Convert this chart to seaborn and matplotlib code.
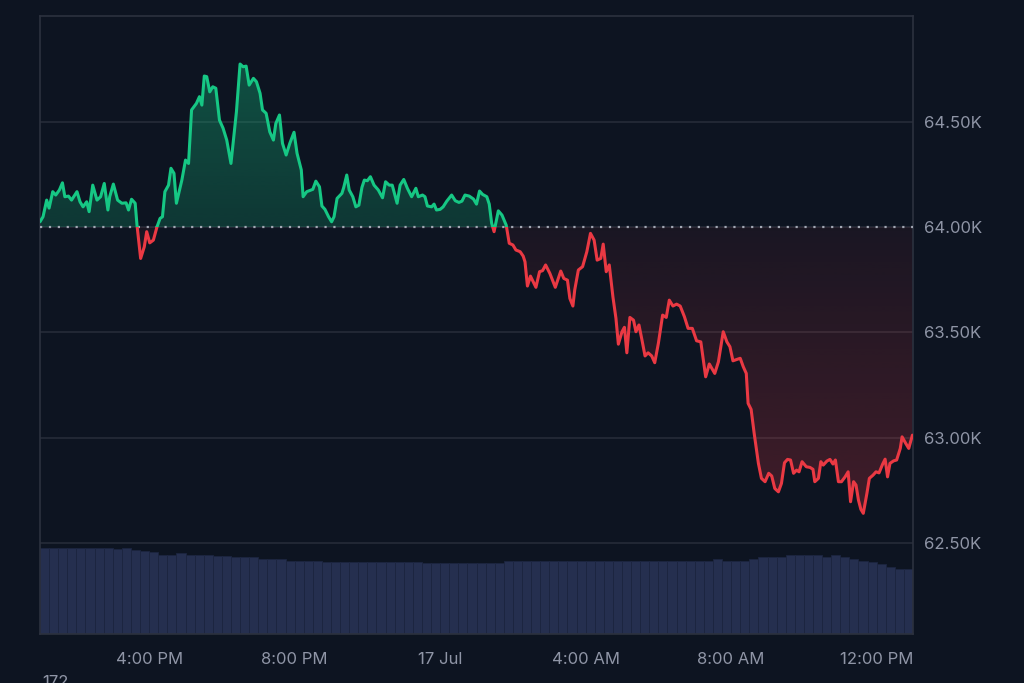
import numpy as np
import pandas as pd
import matplotlib
matplotlib.use("Agg")
import matplotlib.pyplot as plt
import matplotlib.dates as mdates
from matplotlib.path import Path
from matplotlib.patches import Rectangle
import seaborn as sns

# --- data (minutes after 16 Jul 13:00, price in USD) ---
minutes = [0, 5, 11, 15, 21, 26, 32, 37, 41, 47, 52, 61, 66, 71, 77, 81, 87, 94, 100, 106,
           112, 115, 121, 128, 135, 142, 146, 151, 157, 160, 166, 172, 176, 181, 187, 193, 198, 202, 206, 212,
           216, 221, 225, 234, 240, 245, 250, 258, 263, 267, 271, 275, 280, 285, 290, 296, 302, 308, 315, 324,
           330, 335, 340, 345, 352, 357, 363, 367, 373, 379, 385, 389, 395, 400, 406, 412, 419, 424, 431, 434,
           440, 450, 455, 461, 465, 470, 476, 481, 485, 490, 498, 501, 506, 510, 516, 521, 526, 531, 535, 540,
           545, 551, 558, 565, 570, 576, 581, 589, 594, 600, 606, 613, 620, 624, 631, 635, 639, 646, 650, 654,
           660, 665, 671, 679, 685, 691, 696, 701, 708, 715, 720, 725, 730, 737, 741, 745, 749, 756, 762, 769,
           774, 780, 785, 792, 797, 800, 804, 809, 818, 824, 829, 834, 841, 850, 859, 864, 870, 874, 879, 882,
           888, 895, 902, 908, 914, 919, 925, 929, 934, 939, 945, 950, 954, 960, 964, 968, 973, 979, 983, 988,
           993, 998, 1003, 1009, 1014, 1020, 1027, 1033, 1038, 1044, 1050, 1056, 1063, 1069, 1076, 1083, 1090, 1098, 1104, 1113,
           1119, 1127, 1133, 1138, 1143, 1150, 1155, 1160, 1165, 1168, 1173, 1178, 1185, 1190, 1196, 1202, 1207, 1212, 1218, 1223,
           1228, 1233, 1238, 1243, 1248, 1252, 1257, 1264, 1270, 1275, 1278, 1284, 1288, 1292, 1298, 1303, 1308, 1312, 1317, 1322,
           1328, 1333, 1337, 1342, 1346, 1350, 1354, 1358, 1364, 1368, 1374, 1379, 1384, 1390, 1394, 1398, 1402, 1408, 1413, 1419,
           1422, 1428, 1433, 1439]
prices = [64025, 64049, 64128, 64090, 64168, 64152, 64176, 64210, 64144, 64147, 64128, 64168, 64120, 64096, 64120, 64073, 64199, 64128, 64144, 64207,
          64081, 64144, 64204, 64128, 64113, 64115, 64081, 64132, 64113, 64009, 63851, 63906, 63978, 63925, 63938, 64001, 64041, 64049, 64168, 64199,
          64279, 64255, 64113, 64223, 64318, 64302, 64556, 64587, 64619, 64579, 64717, 64714, 64642, 64666, 64659, 64508, 64469, 64413, 64302, 64547,
          64774, 64761, 64764, 64674, 64706, 64690, 64635, 64556, 64540, 64452, 64413, 64492, 64532, 64397, 64342, 64397, 64450, 64350, 64271, 64144,
          64168, 64179, 64218, 64191, 64100, 64084, 64049, 64025, 64049, 64136, 64160, 64188, 64247, 64176, 64144, 64096, 64104, 64188, 64223, 64220,
          64239, 64199, 64176, 64139, 64215, 64199, 64199, 64113, 64199, 64226, 64184, 64144, 64184, 64144, 64152, 64144, 64100, 64096, 64109, 64081,
          64084, 64096, 64123, 64152, 64125, 64117, 64123, 64152, 64147, 64133, 64109, 64171, 64155, 64144, 64109, 64018, 63978, 64077, 64057, 64009,
          63923, 63915, 63891, 63883, 63862, 63835, 63720, 63767, 63714, 63788, 63793, 63820, 63780, 63714, 63791, 63756, 63748, 63661, 63625, 63701,
          63796, 63812, 63883, 63970, 63938, 63843, 63851, 63919, 63788, 63820, 63669, 63567, 63444, 63503, 63524, 63403, 63571, 63558, 63503, 63535,
          63463, 63388, 63403, 63388, 63356, 63448, 63582, 63571, 63653, 63625, 63634, 63625, 63574, 63519, 63519, 63460, 63455, 63289, 63350, 63305,
          63360, 63503, 63455, 63432, 63365, 63372, 63377, 63337, 63305, 63163, 63134, 63021, 62878, 62807, 62791, 62831, 62818, 62759, 62743, 62783,
          62881, 62897, 62894, 62831, 62846, 62838, 62886, 62862, 62859, 62850, 62791, 62807, 62886, 62870, 62889, 62897, 62875, 62894, 62791, 62791,
          62814, 62838, 62696, 62791, 62775, 62704, 62660, 62641, 62736, 62807, 62822, 62838, 62833, 62875, 62898, 62814, 62878, 62890, 62894, 62949,
          63004, 62973, 62949, 63012]

# volume bars, one every 15 minutes (billions)
vol_minutes = list(range(0, 1440, 15))
volumes = [30.0, 30.0, 30.0, 30.0, 30.0, 30.0, 30.0, 30.0, 29.6, 30.0, 29.4, 29.2, 28.7, 27.8, 27.5, 28.2,
           27.5, 27.7, 27.7, 27.3, 27.2, 26.8, 26.8, 26.8, 26.4, 26.4, 26.4, 25.7, 25.7, 25.7, 25.7, 25.1,
           25.2, 25.2, 25.2, 25.2, 25.2, 25.2, 25.2, 25.2, 25.2, 25.2, 25.0, 25.0, 25.0, 25.0, 25.0, 25.0,
           25.0, 25.0, 25.0, 25.4, 25.4, 25.4, 25.4, 25.4, 25.4, 25.4, 25.6, 25.6, 25.6, 25.6, 25.6, 25.6,
           25.6, 25.6, 25.6, 25.6, 25.6, 25.6, 25.6, 25.6, 25.6, 25.7, 26.3, 25.6, 25.7, 25.7, 26.4, 27.0,
           27.0, 27.1, 27.5, 27.5, 27.5, 27.5, 27.1, 27.5, 26.8, 26.4, 25.7, 25.2, 24.5, 23.6, 22.9, 22.6]

baseline = 64000
tick_prices = [62500, 63000, 63500, 64000, 64500]
tick_times = ['2024-07-16 16:00', '2024-07-16 20:00', '2024-07-17 00:00',
              '2024-07-17 04:00', '2024-07-17 08:00', '2024-07-17 12:00']
tick_labels = ['4:00 PM', '8:00 PM', '17 Jul', '4:00 AM', '8:00 AM', '12:00 PM']

BG = '#0d1421'
GREEN = '#16c784'
RED = '#ea3943'
GRID = '#262b38'
TEXT = '#8f95a6'

sns.set_theme(style="dark")
plt.rcParams['font.family'] = ['Inter', 'DejaVu Sans']

start = pd.Timestamp('2024-07-16 13:00')
times = start + pd.to_timedelta(minutes, unit='m')
df = pd.DataFrame({'time': times, 'price': prices})
vol_times = start + pd.to_timedelta(vol_minutes, unit='m')

fig = plt.figure(figsize=(10.24, 6.83), dpi=100, facecolor=BG)
ax = fig.add_axes([40 / 1024, 1 - 634 / 683, 873 / 1024, 618 / 683])
ax.set_facecolor(BG)

# volume on a hidden twin axis
ax2 = ax.twinx()
ax2.bar(vol_times, volumes, width=15 / 1440, align='edge', color='#252f4f',
        edgecolor='#1c2540', linewidth=0.6, zorder=1)
ax2.set_ylim(0, 216.3)
ax2.set_yticks([])
ax2.grid(False)
for s in ax2.spines.values():
    s.set_visible(False)
ax.set_zorder(ax2.get_zorder() + 1)
ax.patch.set_visible(False)
ax2.set_facecolor(BG)

# price lines: same line twice, clipped above / below the baseline
sns.lineplot(data=df, x='time', y='price', ax=ax, color=GREEN, linewidth=2.2,
             estimator=None, zorder=4, solid_joinstyle='round')
sns.lineplot(data=df, x='time', y='price', ax=ax, color=RED, linewidth=2.2,
             estimator=None, zorder=4, solid_joinstyle='round')

x0 = mdates.date2num(start)
x1 = mdates.date2num(start + pd.Timedelta(minutes=1440))
ymin, ymax = 62068, 65002
ax.set_xlim(x0, x1)
ax.set_ylim(ymin, ymax)

green_line, red_line = ax.lines[-2], ax.lines[-1]
green_line.set_clip_path(Rectangle((x0, baseline), x1 - x0, ymax - baseline, transform=ax.transData))
red_line.set_clip_path(Rectangle((x0, ymin), x1 - x0, baseline - ymin, transform=ax.transData))


def gradient_fill(color, a_base, a_far, far, above):
    xn = mdates.date2num(times)
    y = np.array(prices, dtype=float)
    where = y >= baseline if above else y <= baseline
    coll = ax.fill_between(xn, y, baseline, where=where, interpolate=True,
                           facecolor='none', edgecolor='none')
    path = Path.make_compound_path(*coll.get_paths())
    rgb = matplotlib.colors.to_rgb(color)
    img = np.zeros((256, 1, 4))
    img[..., :3] = rgb
    img[:, 0, 3] = np.linspace(a_base, a_far, 256)
    if above:
        lo, hi = baseline, far
    else:
        lo, hi = far, baseline
        img = img[::-1]
    im = ax.imshow(img, extent=[xn[0], xn[-1], lo, hi], origin='lower',
                   aspect='auto', zorder=2, interpolation='bilinear')
    im.set_clip_path(path, transform=ax.transData)


gradient_fill(GREEN, 0.20, 0.34, max(prices), True)
gradient_fill(RED, 0.06, 0.24, min(prices), False)
ax.set_xlim(x0, x1)
ax.set_ylim(ymin, ymax)

# grid + dotted baseline
for p in tick_prices:
    ax.axhline(p, color=GRID, linewidth=1.2, zorder=1)
ax.axhline(baseline, color='#a3a8b4', linewidth=1.6, linestyle=(0, (1, 3)), zorder=3)

ax.yaxis.tick_right()
ax.set_yticks(tick_prices)
ax.set_yticklabels([f'{p / 1000:.2f}K' for p in tick_prices])
ax.set_xticks([mdates.date2num(pd.Timestamp(t)) for t in tick_times])
ax.set_xticklabels(tick_labels)
ax.tick_params(axis='y', length=0, pad=8, labelsize=12, labelcolor=TEXT)
ax.tick_params(axis='x', length=0, pad=13, labelsize=12, labelcolor=TEXT)
ax.grid(False)
ax.set_xlabel('')
ax.set_ylabel('')
for s in ax.spines.values():
    s.set_visible(True)
    s.set_color('#2c313e')
    s.set_linewidth(1.2)

# partly cut-off label at the lower edge, as in the reference
fig.text(42 / 1024, -0.006, '172', color=TEXT, fontsize=12, va='baseline', ha='left')

fig.savefig('out.png', dpi=100, facecolor=BG)
